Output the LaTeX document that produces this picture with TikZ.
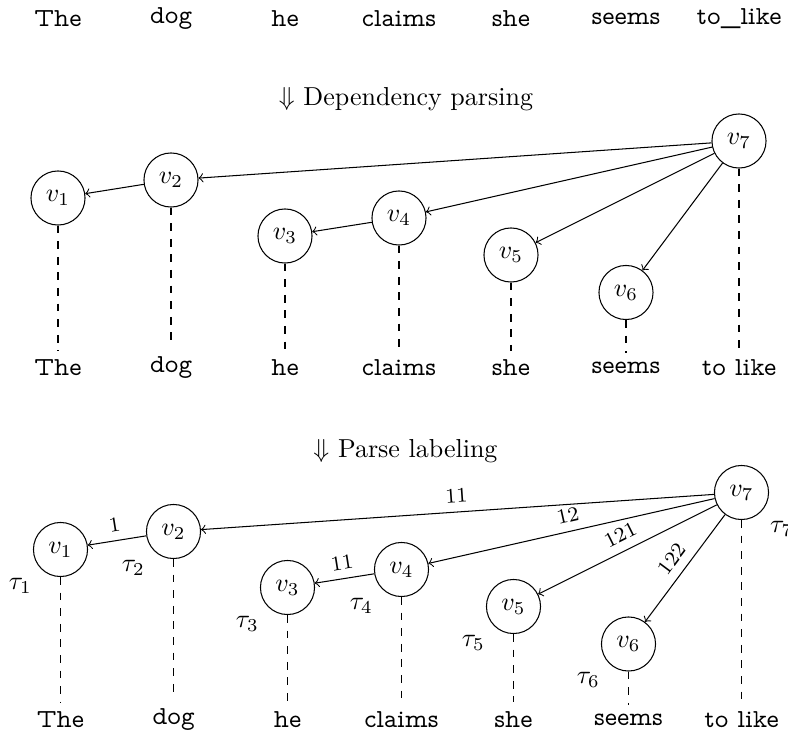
\documentclass[tikz,border=0pt]{standalone}
\usepackage{fontspec}
\newfontfamily\wordfont{lmmonoprop10-regular.otf}
\begin{document}
\begin{tikzpicture}[x=0.3846pt,y=-0.3846pt,
  vnode/.style={circle,draw,minimum size=20.8pt,inner sep=0pt},
  word/.style={font=\wordfont},
  dep/.style={->},
  tie/.style={dashed},
  lab/.style={font=\footnotesize,midway,above,sloped},
  heading/.style={},
]
\useasboundingbox (0,0) rectangle (788,735);

% top row of words
\node[word] (t1) at (58,19) {The};
\node[word] (t2) at (171,19) {dog};
\node[word] (t3) at (285,19) {he};
\node[word] (t4) at (399,19) {claims};
\node[word] (t5) at (511,19) {she};
\node[word] (t6) at (626,19) {seems};
\node[word] (t7) at (739,19) {to\_like};

\node[heading] (h1) at (406,99.5) {$\Downarrow$ Dependency parsing};

% dependency tree
\node[vnode] (a1) at (58,198) {$v_1$};
\node[vnode] (a2) at (171,180) {$v_2$};
\node[vnode] (a3) at (285,236) {$v_3$};
\node[vnode] (a4) at (399,218) {$v_4$};
\node[vnode] (a5) at (511,255) {$v_5$};
\node[vnode] (a6) at (626,292.5) {$v_6$};
\node[vnode] (a7) at (739,141) {$v_7$};

\node[word] (w1) at (58,368) {The};
\node[word] (w2) at (171,368) {dog};
\node[word] (w3) at (285,368) {he};
\node[word] (w4) at (399,368) {claims};
\node[word] (w5) at (511,368) {she};
\node[word] (w6) at (626,368) {seems};
\node[word] (w7) at (739,368) {to like};

\draw[dep] (a7) -- (a2);
\draw[dep] (a2) -- (a1);
\draw[dep] (a7) -- (a4);
\draw[dep] (a4) -- (a3);
\draw[dep] (a7) -- (a5);
\draw[dep] (a7) -- (a6);
\foreach \i in {1,...,7} { \draw[tie] (a\i) -- (w\i); }

\node[heading] (h2) at (405.5,451) {$\Downarrow$ Parse labeling};

% labelled tree
\begin{scope}[shift={(2.5,351.5)}]
\node[vnode,label={below left:$\tau_1$}] (b1) at (58,198) {$v_1$};
\node[vnode,label={below left:$\tau_2$}] (b2) at (171,180) {$v_2$};
\node[vnode,label={below left:$\tau_3$}] (b3) at (285,236) {$v_3$};
\node[vnode,label={below left:$\tau_4$}] (b4) at (399,218) {$v_4$};
\node[vnode,label={below left:$\tau_5$}] (b5) at (511,255) {$v_5$};
\node[vnode,label={below left:$\tau_6$}] (b6) at (626,292.5) {$v_6$};
\node[vnode,label={below right:$\tau_7$}] (b7) at (739,141) {$v_7$};

\node[word] (c1) at (58,368) {The};
\node[word] (c2) at (171,368) {dog};
\node[word] (c3) at (285,368) {he};
\node[word] (c4) at (399,368) {claims};
\node[word] (c5) at (511,368) {she};
\node[word] (c6) at (626,368) {seems};
\node[word] (c7) at (739,368) {to like};
\end{scope}

\draw[dep] (b7) -- node[lab] {11} (b2);
\draw[dep] (b2) -- node[lab] {1} (b1);
\draw[dep] (b7) -- node[lab] {12} (b4);
\draw[dep] (b4) -- node[lab] {11} (b3);
\draw[dep] (b7) -- node[lab] {121} (b5);
\draw[dep] (b7) -- node[lab] {122} (b6);
\foreach \i in {1,...,7} { \draw[tie] (b\i) -- (c\i); }
\end{tikzpicture}
\end{document}
